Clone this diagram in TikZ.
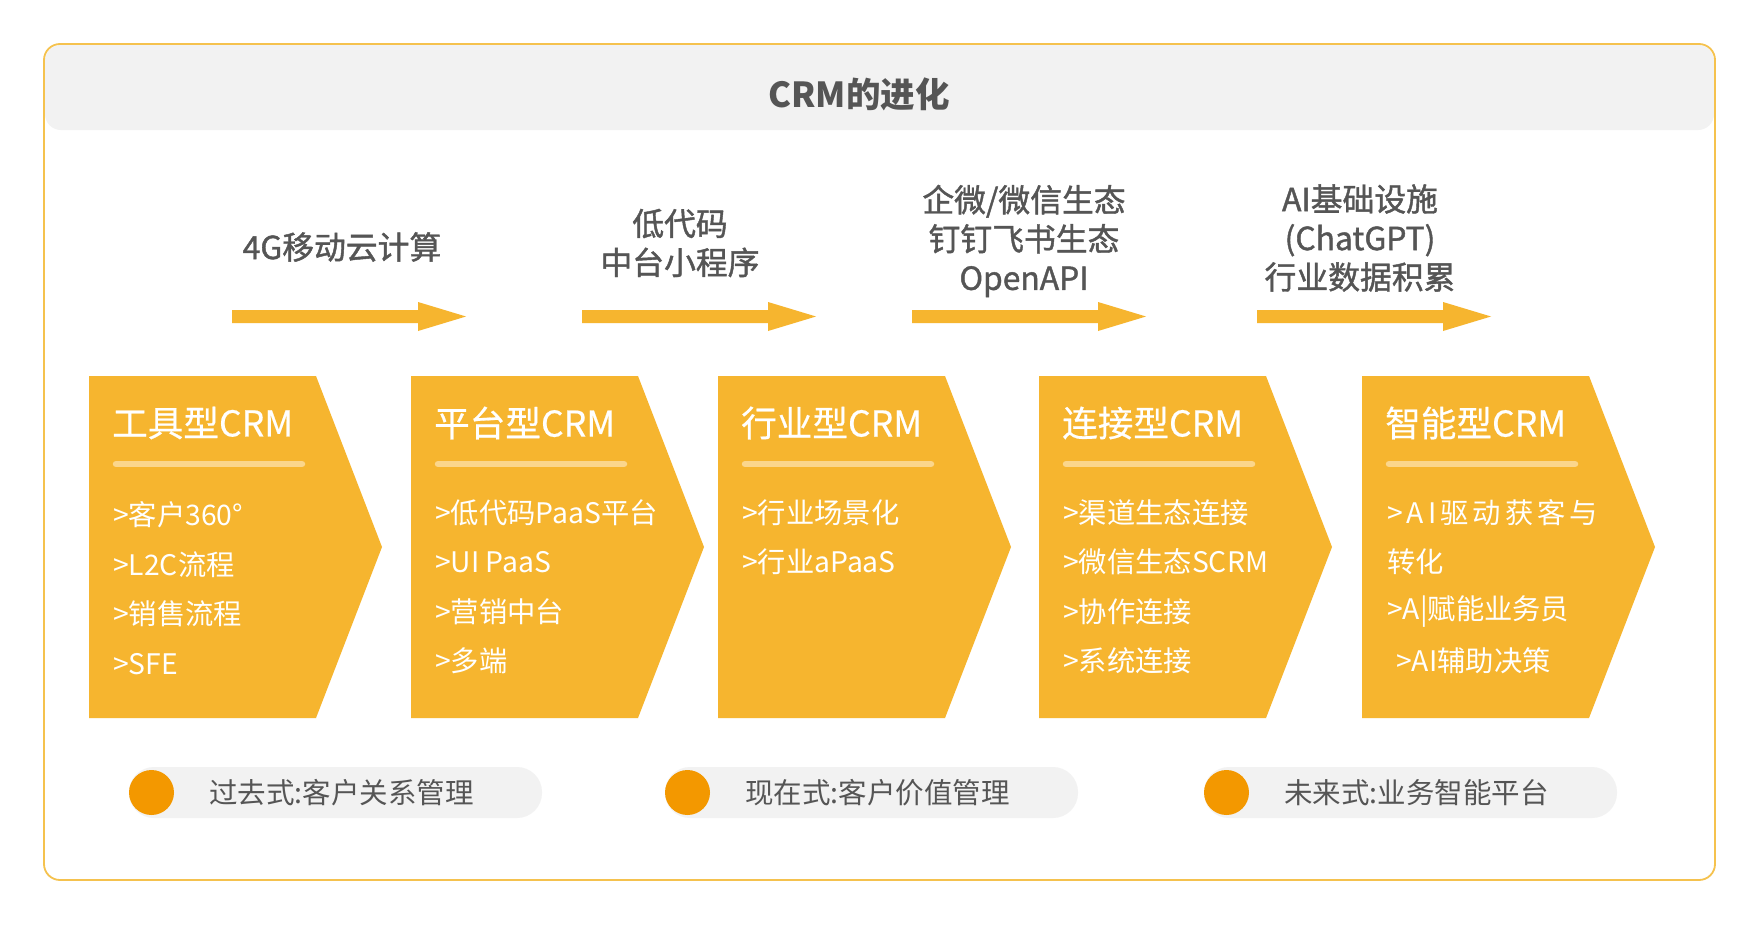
\documentclass[tikz,border=0pt]{standalone}
\usepackage{fontspec}
\setmainfont{Noto Sans CJK SC}
\newfontfamily\cjkm{Noto Sans CJK SC}[FakeBold=1.3]
\newfontfamily\cjkt{Noto Sans CJK SC}[FakeBold=0.5]
\definecolor{gold}{HTML}{F6B52F}
\definecolor{barc}{HTML}{FBD68C}
\definecolor{org}{HTML}{F39800}
\definecolor{txt}{HTML}{555555}
\definecolor{band}{HTML}{F2F2F2}
\definecolor{framec}{HTML}{F5C24E}
\tikzset{
  lab/.style={text=txt, inner sep=0, align=center, font=\cjkm\fontsize{31.8}{39}\selectfont},
  btitle/.style={text=white, inner sep=0, anchor=west, font=\cjkt\fontsize{35.6}{40}\selectfont},
  item/.style={text=white, inner sep=0, anchor=west, font=\fontsize{28.3}{32}\selectfont},
  pilltext/.style={text=txt, inner sep=0, anchor=west, font=\fontsize{28.5}{32}\selectfont},
}
\newcommand\garrow[1]{\fill[gold] (#1,310) -- ++(186,0) -- ++(0,-8) -- ++(48,14.5) -- ++(-48,14.5) -- ++(0,-8) -- ++(-186,0) -- cycle;}
\newcommand\chev[1]{\fill[gold] (#1,376) -- ++(227,0) -- ++(66,171) -- ++(-66,171) -- ++(-227,0) -- cycle;
  \draw[barc, line width=6.5, line cap=round] (#1+27,464) -- (#1+213,464);}
\newcommand\pill[1]{\fill[band, rounded corners=25] (#1,767) rectangle ++(413,51);
  \fill[org] (#1+22.5,792.5) circle (22.5);}
\newcommand\ls{\hspace{4pt}}
\begin{document}
\begin{tikzpicture}[x=1pt,y=-1pt]
\useasboundingbox (0,0) rectangle (1760,924);
\fill[white] (0,0) rectangle (1760,924);
% title band and frame
\fill[band, rounded corners=16] (45,45) rectangle (1714,130);
\draw[framec, line width=1.8, rounded corners=16] (44,44) rectangle (1715,880);
\node[text=txt, inner sep=0, font=\bfseries\fontsize{34.5}{40}\selectfont] (title) at (859,94) {CRM的进化};
% arrows
\garrow{232}
\garrow{582}
\garrow{912}
\garrow{1257}
\node[lab] (l1) at (342,247) {4G移动云计算};
\node[lab] (l2) at (680,243) {低代码\\中台小程序};
\node[lab] (l3) at (1024,241) {企微/微信生态\\钉钉飞书生态\\OpenAPI};
\node[lab] (l4) at (1360,238) {AI基础设施\\(ChatGPT)\\行业数据积累};
% boxes
\chev{89}
\chev{411}
\chev{718}
\chev{1039}
\chev{1362}
\node[btitle] (t1) at (112,423) {工具型CRM};
\node[btitle] (t2) at (434,423) {平台型CRM};
\node[btitle] (t3) at (741,423) {行业型CRM};
\node[btitle] (t4) at (1062,423) {连接型CRM};
\node[btitle] (t5) at (1385,423) {智能型CRM};
\node[item] (a1) at (113,515) {>客户360°};
\node[item] (a2) at (113,565) {>L2C流程};
\node[item] (a3) at (113,614) {>销售流程};
\node[item] (a4) at (113,664) {>SFE};
\node[item] (b1) at (435,513) {>低代码PaaS平台};
\node[item] (b2) at (435,562) {>UI PaaS};
\node[item] (b3) at (435,612) {>营销中台};
\node[item] (b4) at (435,661) {>多端};
\node[item] (c1) at (742,513) {>行业场景化};
\node[item] (c2) at (742,562) {>行业aPaaS};
\node[item] (d1) at (1063,513) {>渠道生态连接};
\node[item] (d2) at (1063,562) {>微信生态SCRM};
\node[item] (d3) at (1063,612) {>协作连接};
\node[item] (d4) at (1063,661) {>系统连接};
\node[item] (e1) at (1387,513) {>\ls A\ls I\ls 驱\ls 动\ls 获\ls 客\ls 与};
\node[item] (e2) at (1387,562) {转化};
\node[item] (e3) at (1387,612) {>A|赋能业务员};
\node[item] (e4) at (1396,661) {>AI辅助决策};
% pills
\pill{129}
\pill{665}
\pill{1204}
\node[pilltext] (p1) at (209,793) {过去式:客户关系管理};
\node[pilltext] (p2) at (745,793) {现在式:客户价值管理};
\node[pilltext] (p3) at (1284,793) {未来式:业务智能平台};
\end{tikzpicture}
\end{document}
